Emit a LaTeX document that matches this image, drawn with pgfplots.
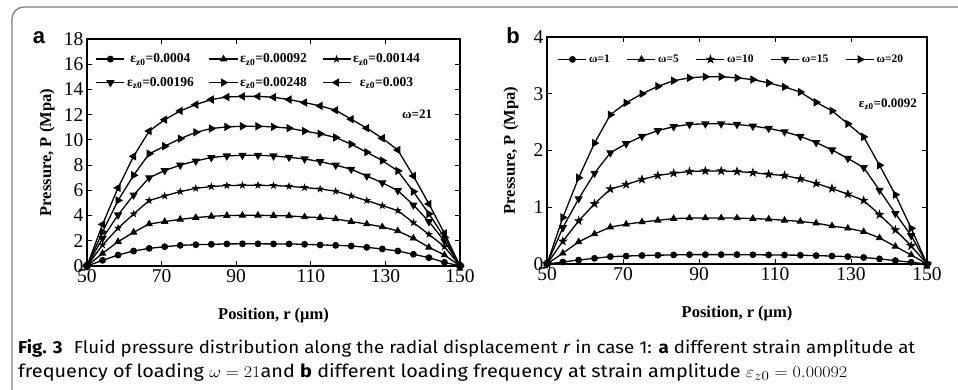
\documentclass[border=0pt]{standalone}
\usepackage{pgfplots}
\pgfplotsset{compat=1.18}
\usepackage{pgfplotstable}
\usepackage{fontspec}
\setmainfont{Liberation Serif}
\newfontfamily\capfont{Fira Sans}
\newfontfamily\panelfont{Liberation Sans}
\usetikzlibrary{plotmarks}

\pgfdeclareplotmark{fstar}{%
  \pgfpathmoveto{\pgfpointpolar{90}{1.3\pgfplotmarksize}}%
  \pgfpathlineto{\pgfpointpolar{126}{0.5\pgfplotmarksize}}%
  \pgfpathlineto{\pgfpointpolar{162}{1.3\pgfplotmarksize}}%
  \pgfpathlineto{\pgfpointpolar{198}{0.5\pgfplotmarksize}}%
  \pgfpathlineto{\pgfpointpolar{234}{1.3\pgfplotmarksize}}%
  \pgfpathlineto{\pgfpointpolar{270}{0.5\pgfplotmarksize}}%
  \pgfpathlineto{\pgfpointpolar{306}{1.3\pgfplotmarksize}}%
  \pgfpathlineto{\pgfpointpolar{342}{0.5\pgfplotmarksize}}%
  \pgfpathlineto{\pgfpointpolar{18}{1.3\pgfplotmarksize}}%
  \pgfpathlineto{\pgfpointpolar{54}{0.5\pgfplotmarksize}}%
  \pgfpathclose\pgfusepathqfillstroke}

\pgfplotstableread{
x s1 s2 s3 s4 s5 s6
50 0 0 0 0 0 0
54.17 0.45 1.00 1.67 2.20 2.70 3.30
58.33 0.87 1.93 3.00 4.05 5.20 6.20
62.5 1.19 2.67 4.13 5.63 7.20 8.70
66.67 1.40 3.33 5.19 7.00 8.90 10.70
70.83 1.53 3.52 5.56 7.57 9.50 11.60
75 1.64 3.70 5.90 8.00 10.10 12.30
79.17 1.69 3.84 6.16 8.33 10.60 12.80
83.33 1.72 3.94 6.30 8.60 10.90 13.20
87.5 1.75 4.00 6.38 8.73 11.03 13.40
91.67 1.76 4.02 6.40 8.78 11.08 13.45
95.83 1.76 4.02 6.40 8.78 11.08 13.45
100 1.75 4.00 6.38 8.73 11.03 13.38
104.17 1.75 3.97 6.32 8.62 10.93 13.20
108.33 1.72 3.89 6.22 8.49 10.70 12.96
112.5 1.67 3.84 6.11 8.28 10.48 12.70
116.67 1.64 3.73 5.93 8.00 10.19 12.35
120.83 1.59 3.52 5.56 7.67 9.66 11.64
125 1.48 3.33 5.19 7.14 9.02 10.93
129.17 1.35 3.10 4.79 6.60 8.36 10.13
133.33 1.19 2.78 4.39 5.98 7.54 9.20
137.5 0.93 2.20 3.44 4.84 5.90 7.14
141.67 0.66 1.48 2.51 3.52 4.13 4.92
145.83 0.29 0.87 1.53 1.98 2.28 2.59
150 0 0 0 0 0 0
}\tabA

\pgfplotstableread{
x w1 w5 w10 w15 w20
50 0 0 0 0 0
54.17 0.035 0.19 0.40 0.64 0.82
58.33 0.07 0.39 0.76 1.15 1.52
62.5 0.10 0.53 1.06 1.60 2.13
66.67 0.13 0.65 1.32 1.96 2.63
70.83 0.14 0.70 1.40 2.12 2.84
75 0.15 0.74 1.49 2.25 3.00
79.17 0.155 0.77 1.56 2.35 3.13
83.33 0.16 0.80 1.60 2.42 3.23
87.5 0.165 0.81 1.63 2.46 3.28
91.67 0.165 0.81 1.64 2.47 3.30
95.83 0.165 0.81 1.64 2.47 3.30
100 0.165 0.81 1.63 2.46 3.28
104.17 0.163 0.80 1.61 2.43 3.25
108.33 0.16 0.79 1.58 2.39 3.19
112.5 0.158 0.77 1.56 2.33 3.12
116.67 0.155 0.75 1.50 2.25 3.03
120.83 0.148 0.72 1.42 2.14 2.85
125 0.14 0.67 1.33 2.01 2.70
129.17 0.13 0.63 1.23 1.86 2.47
133.33 0.115 0.57 1.12 1.70 2.24
137.5 0.09 0.46 0.87 1.30 1.74
141.67 0.06 0.31 0.60 0.89 1.22
145.83 0.03 0.16 0.32 0.50 0.63
150 0 0 0 0 0
}\tabB

\pgfplotsset{
  myax/.style={
    scale only axis, clip=false,
    xmin=50, xmax=150, xtick={50,70,...,150},
    axis line style={line width=1.1pt},
    major tick style={line width=0.9pt, black},
    major tick length=5pt, tick align=inside,
    /pgf/number format/assume math mode=true,
    tick label style={font=\fontsize{19.5}{20}\selectfont},
    label style={font=\bfseries\fontsize{16.5}{18}\selectfont},
    legend image code/.code={\draw[mark repeat=2,mark phase=2] plot coordinates {(0pt,0pt)(14pt,0pt)(28pt,0pt)};},
  },
  ser/.style={black, solid, line width=1.3pt, mark options={solid, fill=black, line width=0.8pt}},
}

\begin{document}
\begin{tikzpicture}
\useasboundingbox (0pt,0pt) rectangle (958pt,389pt);
\begin{scope}
\clip (0pt,0pt) rectangle (958pt,389pt);
\draw[black!50, line width=1.3pt, rounded corners=12pt] (12pt,-30pt) rectangle (990pt,382pt);
\end{scope}

\node[font=\panelfont\bfseries\fontsize{22}{22}\selectfont] at (39pt,351pt) {a};
\node[font=\panelfont\bfseries\fontsize{22}{22}\selectfont] at (513pt,353pt) {b};

\begin{axis}[myax,
  at={(87pt,123pt)}, anchor=south west, width=373pt, height=227pt,
  ymin=0, ymax=18, ytick={0,2,...,18},
  xlabel={Position, r (μm)}, ylabel={Pressure, P (Mpa)},
  xlabel style={at={(axis description cs:0.5,-0.216)}, anchor=center},
  ylabel style={at={(axis description cs:-0.107,0.5)}, anchor=center},
  legend columns=3,
  legend style={at={(axis description cs:0.015,0.953)}, anchor=north west, draw=none, fill=none,
    font=\bfseries\fontsize{13.5}{14}\selectfont, row sep=9pt,
    /tikz/every even column/.append style={column sep=13pt}},
]
\addplot[ser, mark=*, mark size=3pt] table[x=x,y=s1]{\tabA};
\addlegendentry{ε\textsubscript{z0}=0.0004}
\addplot[ser, mark=triangle*, mark size=3.6pt] table[x=x,y=s2]{\tabA};
\addlegendentry{ε\textsubscript{z0}=0.00092}
\addplot[ser, mark=fstar, mark size=2.3pt] table[x=x,y=s3]{\tabA};
\addlegendentry{ε\textsubscript{z0}=0.00144}
\addplot[ser, mark=triangle*, mark size=3.6pt, mark options={rotate=180}] table[x=x,y=s4]{\tabA};
\addlegendentry{ε\textsubscript{z0}=0.00196}
\addplot[ser, mark=triangle*, mark size=3.6pt, mark options={rotate=-90}] table[x=x,y=s5]{\tabA};
\addlegendentry{ε\textsubscript{z0}=0.00248}
\addplot[ser, mark=triangle*, mark size=3.6pt, mark options={rotate=90}] table[x=x,y=s6]{\tabA};
\addlegendentry{ε\textsubscript{z0}=0.003}
\node[font=\bfseries\fontsize{13}{13}\selectfont] at (axis cs:138.5,12) {ω=21};
\end{axis}

\begin{axis}[myax,
  at={(547pt,125pt)}, anchor=south west, width=380pt, height=227pt,
  ymin=0, ymax=4, ytick={0,1,2,3,4},
  xlabel={Position, r (μm)}, ylabel={Pressure, P (Mpa)},
  xlabel style={at={(axis description cs:0.5,-0.22)}, anchor=center},
  ylabel style={at={(axis description cs:-0.095,0.5)}, anchor=center},
  legend columns=5,
  legend style={at={(axis description cs:0.02,0.94)}, anchor=north west, draw=none, fill=none,
    font=\bfseries\fontsize{11.5}{12}\selectfont,
    /tikz/every even column/.append style={column sep=15pt}},
]
\addplot[ser, mark=*, mark size=3pt] table[x=x,y=w1]{\tabB};
\addlegendentry{ω=1}
\addplot[ser, mark=triangle*, mark size=3.6pt] table[x=x,y=w5]{\tabB};
\addlegendentry{ω=5}
\addplot[ser, mark=fstar, mark size=3pt] table[x=x,y=w10]{\tabB};
\addlegendentry{ω=10}
\addplot[ser, mark=triangle*, mark size=3.6pt, mark options={rotate=180}] table[x=x,y=w15]{\tabB};
\addlegendentry{ω=15}
\addplot[ser, mark=triangle*, mark size=3.6pt, mark options={rotate=-90}] table[x=x,y=w20]{\tabB};
\addlegendentry{ω=20}
\node[font=\bfseries\fontsize{13}{13}\selectfont] at (axis cs:139.7,2.81) {ε\textsubscript{z0}=0.0092};
\end{axis}

\node[anchor=base west, inner sep=0pt] at (18pt,36pt)
  {\resizebox{897pt}{14pt}{\capfont\fontsize{19}{22}\selectfont\textbf{Fig. 3}\hspace{0.6em}Fluid pressure distribution along the radial displacement \textit{r} in case 1: \textbf{a} different strain amplitude at}};
\node[anchor=base west, inner sep=0pt] at (18pt,12pt)
  {\resizebox{829pt}{14pt}{\capfont\fontsize{19}{22}\selectfont frequency of loading $\omega = 21$and \textbf{b} different loading frequency at strain amplitude $\varepsilon_{z0} = 0.00092$}};
\end{tikzpicture}
\end{document}
